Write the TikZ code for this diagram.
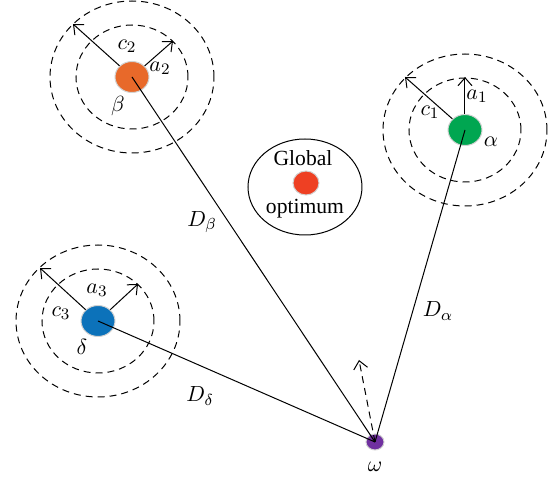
\documentclass[tikz,border=0pt]{standalone}
\usepackage{fontspec}
\setmainfont{Liberation Serif}
\usetikzlibrary{arrows.meta,shapes.geometric}
\definecolor{cbeta}{HTML}{E8692A}
\definecolor{calpha}{HTML}{00A651}
\definecolor{cdelta}{HTML}{0C72BA}
\definecolor{comega}{HTML}{7030A0}
\definecolor{cglob}{HTML}{EE4023}
\begin{document}
\begin{tikzpicture}[x=0.5pt,y=-0.5pt,
  font=\fontsize{10.8}{13}\selectfont,
  dot/.style={ellipse,draw=gray!35,line width=0.5pt,minimum width=17pt,minimum height=15.5pt,inner sep=0pt},
  ring/.style={dashed,dash pattern=on 3.5pt off 2.5pt,line width=0.5pt},
  arr/.style={line width=0.5pt,-{Straight Barb[length=4pt,width=7pt,line width=0.5pt]}},
  conn/.style={line width=0.5pt},
  lbl/.style={inner sep=0pt}]
\useasboundingbox (0,0) rectangle (554,481);
% global optimum
\node[ellipse,draw,line width=0.5pt,minimum width=57pt,minimum height=48pt] (glob) at (305,187) {};
\node[dot,fill=cglob,minimum width=13pt,minimum height=12pt] (gdot) at (306,183) {};
\node[lbl] (gtxt) at (303,158) {Global};
\node[lbl] (otxt) at (305,209) {optimum};
% dots
\node[dot,fill=cbeta] (beta) at (132,77) {};
\node[dot,fill=calpha] (alpha) at (465,130) {};
\node[dot,fill=cdelta] (delta) at (98,321) {};
\node[dot,fill=comega,minimum width=9pt,minimum height=8pt] (omega) at (375,442) {};
% rings
\foreach \n in {beta,alpha,delta}{
  \draw[ring] (\n.center) ellipse [x radius=28pt,y radius=26pt];
  \draw[ring] (\n.center) ellipse [x radius=41pt,y radius=38pt];
}
% tips
\coordinate (c2tip) at (73,24);
\coordinate (a2tip) at (173,41);
\coordinate (c1tip) at (405,77);
\coordinate (a1tip) at (465,77);
\coordinate (c3tip) at (40,268);
\coordinate (a3tip) at (138,284);
\coordinate (wtip) at (359,360);
\draw[arr] (beta) -- (c2tip);
\draw[arr] (beta) -- (a2tip);
\draw[arr] (alpha) -- (c1tip);
\draw[arr] (alpha) -- (a1tip);
\draw[arr] (delta) -- (c3tip);
\draw[arr] (delta) -- (a3tip);
\draw[arr,dashed,dash pattern=on 3.5pt off 2.5pt] (omega.center) -- (wtip);
% connectors
\draw[conn] (beta.center) -- (omega.center);
\draw[conn] (alpha.center) -- (omega.center);
\draw[conn] (delta.center) -- (omega.center);
% labels
\node[lbl] (lc2) at (127,46) {$c_2$};
\node[lbl] (la2) at (160,68) {$a_2$};
\node[lbl] (lb) at (118,106) {$\beta$};
\node[lbl] (la1) at (477,96) {$a_1$};
\node[lbl] (lc1) at (430,112) {$c_1$};
\node[lbl] (lal) at (491,142) {$\alpha$};
\node[lbl] (la3) at (97,290) {$a_3$};
\node[lbl] (lc3) at (61,313) {$c_3$};
\node[lbl] (ld) at (82,347) {$\delta$};
\node[lbl] (lw) at (375,467) {$\omega$};
\node[lbl] (lDb) at (202,222) {$D_\beta$};
\node[lbl] (lDa) at (438,311) {$D_\alpha$};
\node[lbl] (lDd) at (200,396) {$D_\delta$};
\end{tikzpicture}
\end{document}
